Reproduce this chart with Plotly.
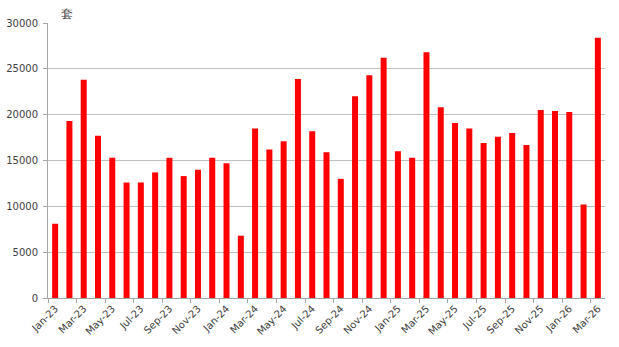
import plotly.graph_objects as go

months = ["Jan","Feb","Mar","Apr","May","Jun","Jul","Aug","Sep","Oct","Nov","Dec"]
categories = []
for yr in ["23", "24", "25"]:
    for m in months:
        categories.append(f"{m}-{yr}")
categories += ["Jan-26", "Feb-26", "Mar-26"]

values = [8100, 19300, 23800, 17700, 15300, 12600, 12600, 13700, 15300, 13300, 14000, 15300,
          14700, 6800, 18500, 16200, 17100, 23900, 18200, 15900, 13000, 22000, 24300, 26200,
          16000, 15300, 26800, 20800, 19100, 18500, 16900, 17600, 18000, 16700, 20500, 20400,
          20300, 10200, 28400]

tick_labels = categories[::2]
unit_label = "套"

n = len(categories)
boundary_ticks = [i - 0.5 for i in range(0, n + 1, 2)]

fig = go.Figure()
fig.add_trace(go.Bar(x=categories, y=values, marker=dict(color="#FF0000", line=dict(width=0))))
fig.add_trace(go.Scatter(x=[-0.5, n - 0.5], y=[0, 0], xaxis="x2", mode="markers",
                         marker=dict(opacity=0), hoverinfo="skip"))

font_family = "'DejaVu Sans', sans-serif"
fig.update_layout(
    width=619, height=347,
    margin=dict(l=48, r=14, t=23, b=49),
    plot_bgcolor="white", paper_bgcolor="white",
    bargap=0.58,
    showlegend=False,
    font=dict(family=font_family, size=10, color="#404040"),
    xaxis2=dict(overlaying="x", side="bottom", range=[-0.5, n - 0.5],
                tickmode="array", tickvals=boundary_ticks, showticklabels=False,
                ticks="outside", ticklen=4, tickcolor="#A6A6A6",
                showgrid=False, zeroline=False, showline=False, automargin=False),
)
fig.layout.xaxis.update(type="category", range=[-0.5, n - 0.5], tickmode="array",
                        tickvals=tick_labels, ticktext=tick_labels, tickangle=-45, ticks="",
                        showline=True, linecolor="#A6A6A6", linewidth=1, showgrid=False,
                        automargin=False, tickfont=dict(size=10, color="#404040"))
fig.update_yaxes(
    range=[0, 30000], dtick=5000, tickformat="d",
    showgrid=True, gridcolor="#BFBFBF", gridwidth=1,
    showline=True, linecolor="#A6A6A6", linewidth=1,
    ticks="outside", ticklen=4, tickcolor="#A6A6A6",
    ticklabelstandoff=3,
    tickfont=dict(size=10, color="#404040"),
    zeroline=False, automargin=False,
)
fig.add_annotation(text=unit_label, xref="paper", yref="paper", x=0.035, y=1.0,
                   xanchor="center", yanchor="bottom", showarrow=False,
                   font=dict(size=12, color="#404040"))
fig.write_html("out.html")
